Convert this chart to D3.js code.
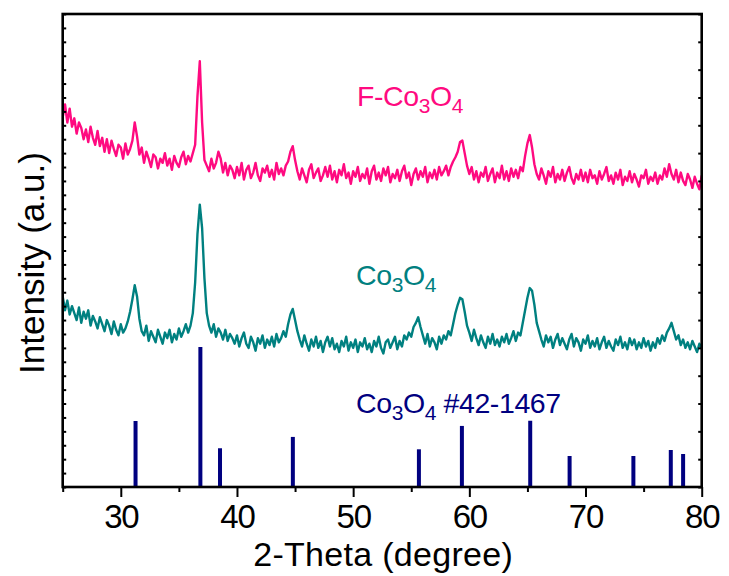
<!DOCTYPE html>
<html>
<head>
<meta charset="utf-8">
<script src="https://cdn.jsdelivr.net/npm/d3@7/dist/d3.min.js"></script>
<style>
  html, body { margin: 0; padding: 0; background: #fff; }
  svg { display: block; }
  text { font-family: "Liberation Sans", Arial, sans-serif; }
</style>
</head>
<body>
<svg id="chart" width="729" height="576"></svg>
<script>
// ---- data ----
const twoThetaStart = 25.0;
const twoThetaStep = 0.2;

// F-Co3O4 pattern (arbitrary intensity units, stacked offset)
const fCo3O4 = [
  266,275,262,272,259, 265,254,262,258,250, 257,248,259,251,246, 256,245,251,241,250,
  240,249,243,238,246, 244,236,247,239,243, 249,262,252,239,244, 233,241,236,230,239,
  237,229,236,233,240, 231,236,228,238,233, 230,237,241,232,238, 234,240,246,281,306,
  262,235,231,227,236, 229,233,241,236,226, 233,224,231,228,222, 230,224,233,221,228,
  231,222,226,233,224, 220,229,226,231,223, 228,221,233,225,229, 224,231,234,241,245,
  235,227,221,229,224, 219,228,232,222,226, 229,220,224,230,223, 231,221,227,219,228,
  224,232,222,226,218, 227,223,230,220,225, 222,229,218,227,231, 221,226,220,229,224,
  230,219,225,222,228, 220,227,231,222,226, 217,225,229,221,227, 223,230,219,226,222,
  228,221,230,224,227, 231,224,230,234,237, 241,248,249,240,231, 225,230,221,227,219,
  226,223,230,220,225, 229,219,226,222,231, 221,227,220,229,223, 228,222,230,227,238,
  247,253,244,232,225, 221,229,224,218,227, 223,230,219,225,221, 228,220,226,230,222,
  218,225,221,228,220, 226,219,228,222,224, 218,227,221,225,230, 220,224,218,226,221,
  228,217,223,220,227, 219,225,221,216,224, 222,228,218,223,220, 226,218,224,221,229,
  223,232,225,221,228, 219,226,220,217,225, 221,215,223,218,214, 224
];

// Co3O4 pattern
const co3O4 = [
  137,127,134,124,130, 125,120,129,118,126, 121,127,116,123,119, 114,122,117,112,120,
  116,110,119,113,109, 117,111,114,119,126, 135,145,137,121,112, 109,116,105,112,108,
  104,113,108,103,111, 107,113,104,110,106, 114,108,112,117,111, 116,125,147,182,203,
  186,150,125,116,111, 117,108,114,111,106, 113,105,110,107,103, 109,101,107,111,103,
  100,108,104,98,107, 103,109,100,106,102, 108,101,110,104,107, 112,108,117,124,128,
  120,112,106,101,109, 103,98,106,101,108, 100,105,97,104,108, 101,107,99,103,97,
  105,101,108,98,104, 100,106,97,104,101, 107,99,103,97,105, 101,108,100,96,104,
  106,100,104,108,99, 105,101,109,106,111, 108,115,118,122,115, 109,103,110,101,107,
  104,99,108,103,109, 106,112,109,117,125, 131,136,135,126,116, 111,105,113,107,102,
  109,104,100,108,103, 110,102,106,101,108, 104,110,103,107,112, 105,111,109,118,127,
  136,143,141,131,118, 112,106,101,109,104, 108,100,106,110,102, 107,103,99,106,110,
  101,107,104,98,106, 103,109,100,105,101, 107,99,104,108,100, 105,101,98,106,102,
  108,100,104,99,107, 102,106,99,104,100, 107,101,105,98,104, 100,107,103,109,105,
  111,114,118,112,106, 109,102,106,100,104, 99,105,101,97,103, 100
];

// JCPDS 42-1467 reference lines
const refPositions = [31.27, 36.85, 38.54, 44.81, 55.66, 59.36, 65.24, 68.63, 74.12, 77.34, 78.40];
const refHeights   = [47.5, 100.7, 27.8, 36.0, 27.1, 43.9, 47.7, 22.3, 22.3, 26.6, 23.7];

const xMajorTicks = [30, 40, 50, 60, 70, 80];
const xMinorTicks = [25, 35, 45, 55, 65, 75];
const xDomain = [25, 80];
const yDomain = [0, 340];

// ---- drawing ----
const svg = d3.select("#chart");
const pLeft = 62.7, pRight = 701.7, pTop = 14, pBottom = 487;

const x = d3.scaleLinear().domain(xDomain).range([pLeft, pRight]);
const y = d3.scaleLinear().domain(yDomain).range([pBottom, pTop]);

svg.append("defs").append("clipPath").attr("id", "plotClip")
  .append("rect").attr("x", pLeft).attr("y", pTop)
  .attr("width", pRight - pLeft).attr("height", pBottom - pTop);

const toPoints = arr => arr.map((v, i) => [twoThetaStart + i * twoThetaStep, v]);
const line = d3.line().x(d => x(d[0])).y(d => y(d[1]));

const plot = svg.append("g").attr("clip-path", "url(#plotClip)");

plot.append("path").datum(toPoints(co3O4))
  .attr("d", line).attr("fill", "none")
  .attr("stroke", "#008080").attr("stroke-width", 2.4).attr("stroke-linejoin", "round");

plot.append("path").datum(toPoints(fCo3O4))
  .attr("d", line).attr("fill", "none")
  .attr("stroke", "#FF0A80").attr("stroke-width", 2.4).attr("stroke-linejoin", "round");

plot.selectAll("line.ref").data(refPositions).enter().append("line")
  .attr("class", "ref")
  .attr("x1", d => x(d)).attr("x2", d => x(d))
  .attr("y1", y(0)).attr("y2", (d, i) => y(refHeights[i]))
  .attr("stroke", "#000080").attr("stroke-width", 4);

// axes
const axisStyle = g => {
  g.select(".domain").remove();
  g.selectAll(".tick line").attr("stroke", "#000").attr("stroke-width", 2);
};

svg.append("g").attr("transform", `translate(0,${pBottom})`)
  .call(d3.axisBottom(x).tickValues(xMajorTicks).tickSize(10).tickPadding(6).tickFormat(d3.format("d")))
  .call(axisStyle)
  .call(g => g.selectAll(".tick text")
    .attr("font-size", 33).attr("fill", "#000")
    .attr("font-family", "'Liberation Sans', Arial, sans-serif")
    .attr("letter-spacing", -1.2)
    .attr("dy", null).attr("y", 40.5));

svg.append("g").attr("transform", `translate(0,${pBottom})`)
  .call(d3.axisBottom(x).tickValues(xMinorTicks).tickSize(5).tickFormat(""))
  .call(axisStyle);

const yTicksLeft = d3.range(0, 341, 10);
const yTicksRight = d3.range(0, 341, 20);
svg.append("g").attr("transform", `translate(${pLeft},0)`)
  .call(d3.axisLeft(y).tickValues(yTicksLeft).tickSize(-3.5).tickFormat(""))
  .call(axisStyle);
svg.append("g").attr("transform", `translate(${pRight},0)`)
  .call(d3.axisRight(y).tickValues(yTicksRight).tickSize(-3.5).tickFormat(""))
  .call(axisStyle);

// frame
svg.append("rect").attr("x", pLeft).attr("y", pTop)
  .attr("width", pRight - pLeft).attr("height", pBottom - pTop)
  .attr("fill", "none").attr("stroke", "#000").attr("stroke-width", 2.6);

// axis titles
svg.append("text").attr("x", (pLeft + pRight) / 2 + 1).attr("y", 565.5)
  .attr("text-anchor", "middle").attr("font-size", 34).attr("letter-spacing", 0.3)
  .attr("fill", "#000").text("2-Theta (degree)");

svg.append("text").attr("transform", "translate(44,263) rotate(-90)")
  .attr("text-anchor", "middle").attr("font-size", 35).attr("letter-spacing", 0)
  .attr("fill", "#000").text("Intensity (a.u.)");

// series labels with subscripts
function formula(xPos, yPos, color, extra) {
  const t = svg.append("text").attr("x", xPos).attr("y", yPos)
    .attr("font-size", 28.5).attr("fill", color).attr("letter-spacing", -0.4);
  if (extra.prefix) t.append("tspan").text(extra.prefix);
  t.append("tspan").text("Co");
  t.append("tspan").attr("font-size", 21).attr("dy", 7).text("3");
  t.append("tspan").attr("dy", -7).text("O");
  t.append("tspan").attr("font-size", 21).attr("dy", 7).text("4");
  if (extra.suffix) t.append("tspan").attr("dy", -7).text(extra.suffix);
}
formula(357, 106, "#FF0A80", { prefix: "F-" });
formula(356, 285, "#008080", {});
formula(356, 413, "#000080", { suffix: "\u00A0#42-1467" });
</script>
</body>
</html>
